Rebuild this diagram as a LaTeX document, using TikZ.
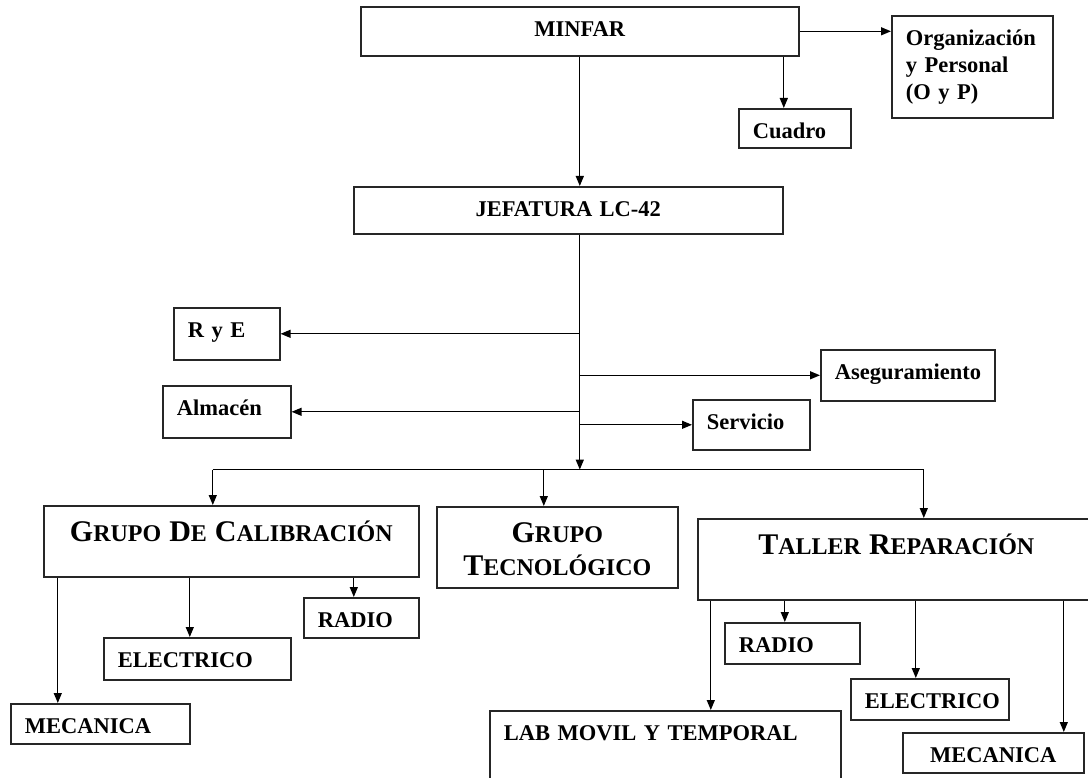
\documentclass[tikz,border=0pt]{standalone}
\usepackage{fontspec}
\setmainfont{Liberation Serif}
\usepackage{tikz}
\usetikzlibrary{arrows.meta,positioning,calc}
\newcommand{\hdcap}[1]{{\fontsize{30pt}{33pt}\selectfont #1}}

\begin{document}
\begin{tikzpicture}[
      x=1pt, y=-1pt,
      unit/.style 2 args={rectangle, draw=black!85, line width=1.6pt, anchor=north west,
                  align=left, inner xsep=14pt, inner ysep=6pt,
                  text width=#1pt-28pt, text height=24pt, text depth=#2pt-36pt,
                  font=\bfseries\fontsize{22.5pt}{27pt}\selectfont},
      header/.style 2 args={unit={#1}{#2}, align=center,
                  text height=30pt, text depth=#2pt-42pt,
                  font=\bfseries\fontsize{24pt}{33pt}\selectfont},
      arrow/.style={-{Triangle[length=10pt,width=8pt]}, line width=1.3pt},
      link/.style={line width=1.3pt}
    ]
      \useasboundingbox (0,0) rectangle (1088,778);
      %% upper levels
      \node[unit={438}{49}, align=center] (minfar) at (360,6) {MINFAR};
      \node[unit={161}{102}] (org) at (891,15) {Organización\\y Personal\\(O y P)};
      \node[unit={112}{39}] (cuadro) at (738,108) {Cuadro};
      \node[unit={429}{47}, align=center] (jefatura) at (353,186) {JEFATURA LC-42};
      \node[unit={106}{52}] (rye) at (173,307) {R y E};
      \node[unit={128}{52}] (almacen) at (162,385) {Almacén};
      \node[unit={174}{51}] (aseg) at (820,349) {Aseguramiento};
      \node[unit={117}{50}] (servicio) at (692,399) {Servicio};
      %% groups
      \node[header={375}{71}] (gc) at (43,505)
          {\hdcap{G}RUPO \hdcap{D}E \hdcap{C}ALIBRACIÓN};
      \node[header={241}{81}] (gt) at (436,506)
          {\hdcap{G}RUPO\\\hdcap{T}ECNOLÓGICO};
      \node[header={397}{81}] (tr) at (697,518)
          {\hdcap{T}ALLER \hdcap{R}EPARACIÓN};
      %% sections
      \node[unit={115}{40}] (gcradio) at (303,597) {RADIO};
      \node[unit={187}{42}] (gcelec) at (103,637) {ELECTRICO};
      \node[unit={179}{40}] (gcmec) at (10,703) {MECANICA};
      \node[unit={135}{41}] (trradio) at (724,622) {RADIO};
      \node[unit={158}{41}] (trelec) at (850,678) {ELECTRICO};
      \node[unit={181}{40}, align=center] (trmec) at (902,732) {MECANICA};
      \node[unit={351}{80}] (lab) at (489,710) {LAB MOVIL Y TEMPORAL};

      %% MINFAR links
      \draw[arrow] (minfar.east) -- (minfar.east -| org.west);
      \coordinate (cq) at ([xshift=-11pt]cuadro.north);
      \draw[arrow] (cq |- minfar.south) -- (cq);
      \draw[arrow] (minfar.south) -- (minfar.south |- jefatura.north);
      %% trunk under JEFATURA
      \coordinate (trunk) at (minfar.south |- jefatura.south);
      \coordinate (bus) at ($(trunk)+(0,235)$);
      \draw[arrow] (trunk) -- (bus);
      \draw[arrow] (trunk |- rye.east) -- (rye.east);
      \draw[arrow] (trunk |- aseg.west) -- (aseg.west);
      \draw[arrow] (trunk |- almacen.east) -- (almacen.east);
      \draw[arrow] (trunk |- servicio.west) -- (servicio.west);
      %% bus to groups
      \coordinate (gcin) at ([xshift=-18.5pt]gc.north);
      \coordinate (gtin) at ([xshift=-13.5pt]gt.north);
      \coordinate (trin) at ([xshift=27.5pt]tr.north);
      \draw[link] (gcin |- bus) -- (trin |- bus);
      \draw[arrow] (gcin |- bus) -- (gcin);
      \draw[arrow] (gtin |- bus) -- (gtin);
      \draw[arrow] (trin |- bus) -- (trin);
      %% calibration sections
      \coordinate (m1) at ([xshift=-42.5pt]gcmec.north);
      \coordinate (e1) at ([xshift=-7.5pt]gcelec.north);
      \coordinate (r1) at ([xshift=-7.5pt]gcradio.north);
      \draw[arrow] (m1 |- gc.south) -- (m1);
      \draw[arrow] (e1 |- gc.south) -- (e1);
      \draw[arrow] (r1 |- gc.south) -- (r1);
      %% workshop sections
      \coordinate (l2) at ([xshift=45.5pt]lab.north);
      \coordinate (r2) at ([xshift=-7.5pt]trradio.north);
      \coordinate (e2) at ([xshift=-14pt]trelec.north);
      \coordinate (m2) at ([xshift=70.5pt]trmec.north);
      \draw[arrow] (l2 |- tr.south) -- (l2);
      \draw[arrow] (r2 |- tr.south) -- (r2);
      \draw[arrow] (e2 |- tr.south) -- (e2);
      \draw[arrow] (m2 |- tr.south) -- (m2);
    \end{tikzpicture}
\end{document}
